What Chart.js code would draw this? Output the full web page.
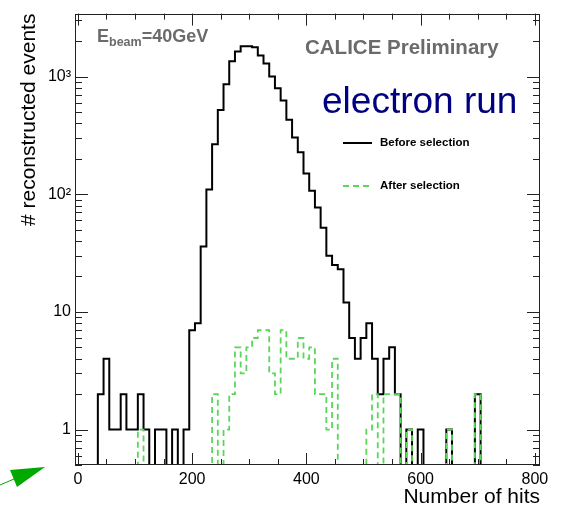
<!DOCTYPE html>
<html>
<head>
<meta charset="utf-8">
<title>Number of hits - electron run</title>
<script src="https://cdn.jsdelivr.net/npm/chart.js@4.4.1/dist/chart.umd.min.js"></script>
<style>
  html, body { margin: 0; padding: 0; background: #fff; }
  #wrap { width: 561px; height: 513px; }
</style>
</head>
<body>
<div id="wrap"><canvas id="hits"></canvas></div>
<script>
// bin centres (bin width 10 hits)
const BIN_WIDTH = 10;
const binCenters = [
    0, 10, 20, 30, 40, 50, 60, 70, 80, 90,
    100, 110, 120, 130, 140, 150, 160, 170, 180, 190,
    200, 210, 220, 230, 240, 250, 260, 270, 280, 290,
    300, 310, 320, 330, 340, 350, 360, 370, 380, 390,
    400, 410, 420, 430, 440, 450, 460, 470, 480, 490,
    500, 510, 520, 530, 540, 550, 560, 570, 580, 590,
    600, 610, 620, 630, 640, 650, 660, 670, 680, 690,
    700, 710, 720, 730, 740, 750, 760, 770, 780, 790,
    800
];

// events per bin, before selection
const beforeSelection = [
    0, 0, 0, 0, 2, 4, 1, 1, 2, 1,
    1, 2, 1, 0, 1, 1, 0, 1, 0, 1,
    7, 8, 36, 110, 266, 520, 860, 1350, 1630, 1810,
    1810, 1775, 1510, 1290, 1000, 795, 625, 430, 303, 227,
    150, 107, 77, 52, 30, 25, 23, 12, 6, 4,
    6, 8, 4, 2, 4, 5, 2, 0, 1, 0,
    1, 0, 0, 0, 0, 1, 0, 0, 0, 0,
    2, 0, 0, 0, 0, 0, 0, 0, 0, 0,
    0
];

// events per bin, after selection
const afterSelection = [
    0, 0, 0, 0, 0, 0, 0, 0, 0, 0,
    0, 1, 0, 0, 0, 0, 0, 0, 0, 0,
    0, 0, 0, 0, 2, 0, 1, 2, 5, 3,
    5, 6, 7, 7, 3, 2, 7, 4, 4, 6,
    4, 5, 2, 2, 1, 4, 0, 0, 0, 0,
    0, 1, 2, 0, 2, 2, 2, 0, 1, 0,
    0, 0, 0, 0, 0, 1, 0, 0, 0, 0,
    2, 0, 0, 0, 0, 0, 0, 0, 0, 0,
    0
];

const xTicks = [0, 200, 400, 600, 800];
const yTicks = [1, 10, 100, 1000];
const yTickLabels = ['1', '10', '10\u00b2', '10\u00b3'];

const X_MIN = -5, X_MAX = 809;
const Y_MIN = 0.5, Y_MAX = 3430;
const FONT = "'Liberation Sans', Arial, Helvetica, sans-serif";

// empty bins sit on the bottom of the frame, like ROOT draws them
const toSteps = (counts) => {
    const pts = binCenters.map((c, i) => ({ x: c - BIN_WIDTH / 2, y: counts[i] > 0 ? counts[i] : Y_MIN }));
    const last = counts.length - 1;
    pts.push({ x: binCenters[last] + BIN_WIDTH / 2, y: counts[last] > 0 ? counts[last] : Y_MIN });
    return pts;
};

// inner ticks on all four sides + frame
const frameTicks = {
    id: 'frameTicks',
    afterDatasetsDraw(chart) {
        const { ctx, chartArea: a, scales: { x, y } } = chart;
        ctx.save();
        ctx.strokeStyle = '#222';
        ctx.lineWidth = 1;
        ctx.beginPath();
        for (let v = 0; v <= 800; v += 50) {
            const px = Math.round(x.getPixelForValue(v)) + 0.5;
            const len = v % 200 === 0 ? 12 : 6;
            ctx.moveTo(px, a.bottom); ctx.lineTo(px, a.bottom - len);
            ctx.moveTo(px, a.top); ctx.lineTo(px, a.top + len);
        }
        for (let dec = 0.1; dec <= 1000; dec *= 10) {
            for (let m = 1; m <= 9; m++) {
                const v = m * dec;
                if (v < Y_MIN || v > Y_MAX) continue;
                const py = Math.round(y.getPixelForValue(v)) + 0.5;
                const len = m === 1 ? 13 : 7;
                ctx.moveTo(a.left, py); ctx.lineTo(a.left + len, py);
                ctx.moveTo(a.right, py); ctx.lineTo(a.right - len, py);
            }
        }
        ctx.stroke();
        ctx.strokeRect(Math.round(a.left) + 0.5, Math.round(a.top) + 0.5,
            Math.round(a.right - a.left) - 1, Math.round(a.bottom - a.top) - 1);
        ctx.restore();
    }
};

// texts, legend and the green arrow from the slide
const annotations = {
    id: 'annotations',
    afterDraw(chart) {
        const { ctx } = chart;
        ctx.save();
        ctx.textBaseline = 'alphabetic';
        ctx.textAlign = 'left';

        // E_beam = 40GeV
        ctx.fillStyle = '#6b6b6b';
        ctx.font = 'bold 18px ' + FONT;
        let tx = 97;
        ctx.fillText('E', tx, 42);
        tx += ctx.measureText('E').width;
        ctx.font = 'bold 12.5px ' + FONT;
        ctx.fillText('beam', tx, 46);
        tx += ctx.measureText('beam').width;
        ctx.font = 'bold 18px ' + FONT;
        ctx.fillText('=40GeV', tx, 42);

        ctx.font = 'bold 20.5px ' + FONT;
        ctx.fillText('CALICE Preliminary', 305, 54);

        ctx.fillStyle = '#000080';
        ctx.font = '37px ' + FONT;
        ctx.fillText('electron run', 322, 113);

        // legend
        const rows = [{ ds: chart.data.datasets[0], y: 143 }, { ds: chart.data.datasets[1], y: 186 }];
        ctx.font = 'bold 11.5px ' + FONT;
        ctx.textBaseline = 'middle';
        rows.forEach(r => {
            ctx.strokeStyle = r.ds.borderColor;
            ctx.lineWidth = r.ds.borderWidth;
            ctx.setLineDash(r.ds.borderDash || []);
            ctx.beginPath();
            ctx.moveTo(343, r.y); ctx.lineTo(372, r.y);
            ctx.stroke();
            ctx.fillStyle = '#000';
            ctx.fillText(r.ds.label, 380, r.y);
        });
        ctx.setLineDash([]);

        // arrow
        ctx.strokeStyle = '#00a800';
        ctx.fillStyle = '#00a800';
        ctx.lineWidth = 1;
        ctx.beginPath();
        ctx.moveTo(0, 485); ctx.lineTo(14, 479);
        ctx.stroke();
        ctx.beginPath();
        ctx.moveTo(45, 467); ctx.lineTo(10, 470); ctx.lineTo(17, 487);
        ctx.closePath();
        ctx.fill();
        ctx.restore();
    }
};

new Chart(document.getElementById('hits'), {
    type: 'line',
    data: {
        datasets: [
            {
                label: 'Before selection',
                data: toSteps(beforeSelection),
                borderColor: '#000',
                borderWidth: 2,
                stepped: true,
                pointRadius: 0,
                fill: false,
                order: 2
            },
            {
                label: 'After selection',
                data: toSteps(afterSelection),
                borderColor: '#5ad65a',
                borderWidth: 1.8,
                borderDash: [6, 4],
                stepped: true,
                pointRadius: 0,
                fill: false,
                order: 1
            }
        ]
    },
    options: {
        responsive: true,
        maintainAspectRatio: false,
        animation: false,
        layout: { padding: { top: 8, right: 21, left: 0, bottom: 0 } },
        plugins: { legend: { display: false }, tooltip: { enabled: false } },
        scales: {
            x: {
                type: 'linear',
                min: X_MIN,
                max: X_MAX,
                grid: { display: false, drawTicks: false },
                border: { display: false },
                afterBuildTicks: s => { s.ticks = xTicks.map(v => ({ value: v })); },
                afterFit: s => { s.height = 48; },
                ticks: {
                    padding: 5,
                    color: '#000',
                    font: { family: FONT, size: 16 },
                    maxRotation: 0,
                    autoSkip: false,
                    callback: v => String(v)
                },
                title: {
                    display: true,
                    text: 'Number of hits',
                    align: 'end',
                    color: '#000',
                    font: { family: FONT, size: 21 },
                    padding: { top: 0, bottom: 3 }
                }
            },
            y: {
                type: 'logarithmic',
                min: Y_MIN,
                max: Y_MAX,
                grid: { display: false, drawTicks: false },
                border: { display: false },
                afterBuildTicks: s => { s.ticks = yTicks.map(v => ({ value: v })); },
                afterFit: s => { s.width = 75; },
                ticks: {
                    padding: 4,
                    color: '#000',
                    font: { family: FONT, size: 16 },
                    autoSkip: false,
                    callback: v => {
                        const i = yTicks.indexOf(v);
                        return i >= 0 ? yTickLabels[i] : '';
                    }
                },
                title: {
                    display: true,
                    text: '# reconstructed events',
                    align: 'end',
                    color: '#000',
                    font: { family: FONT, size: 21 },
                    padding: { top: 17, bottom: 0 }
                }
            }
        }
    },
    plugins: [frameTicks, annotations]
});
</script>
</body>
</html>
